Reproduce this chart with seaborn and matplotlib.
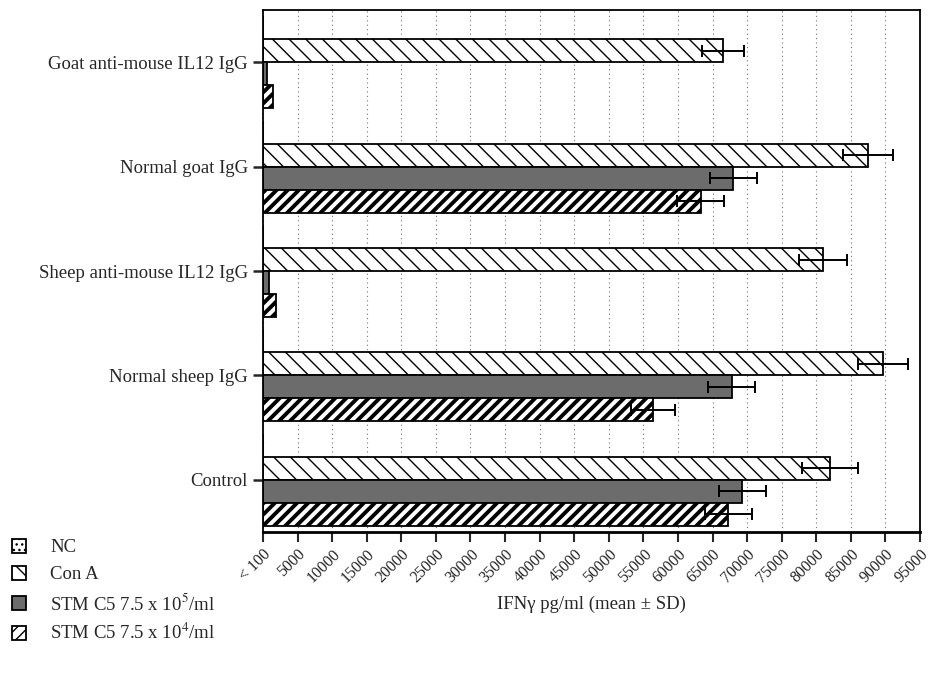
import numpy as np
import pandas as pd
import matplotlib.pyplot as plt
import seaborn as sns

# values (IFN-gamma pg/ml)
groups = ["Goat anti-mouse IL12 IgG", "Normal goat IgG", "Sheep anti-mouse IL12 IgG",
          "Normal sheep IgG", "Control"]
conditions = ["NC", "Con A", "STM C5 7.5 x 10$^{5}$/ml", "STM C5 7.5 x 10$^{4}$/ml"]
nc = [0, 0, 0, 0, 0]
nc_sd = [0, 0, 0, 0, 0]
cona = [66500, 87500, 81000, 89700, 82000]
cona_sd = [3000, 3600, 3500, 3600, 4100]
stm5 = [600, 68000, 800, 67800, 69300]
stm5_sd = [0, 3400, 0, 3400, 3400]
stm4 = [1400, 63300, 1900, 56400, 67300]
stm4_sd = [0, 3400, 0, 3200, 3400]
xticks = list(range(0, 95001, 5000))
xticklabels = ["< 100"] + [str(t) for t in xticks[1:]]

means = [nc, cona, stm5, stm4]
sds = [nc_sd, cona_sd, stm5_sd, stm4_sd]
fills = ["white", "white", "#6c6c6c", "white"]
hatches = ["...", "\\\\", None, "///"]

rows = []
for cond, vals in zip(conditions, means):
    for g, v in zip(groups, vals):
        rows.append({"group": g, "condition": cond, "value": v})
df = pd.DataFrame(rows)

sns.set_style("ticks")
plt.rcParams['font.family'] = ['Liberation Serif', 'DejaVu Serif']
plt.rcParams['mathtext.fontset'] = 'stix'
plt.rcParams['hatch.linewidth'] = 1.0

fig = plt.figure(figsize=(9.35, 6.74), dpi=100)
ax = fig.add_axes([263/935, 142/674, 657/935, 522/674])

sns.barplot(data=df, y="group", x="value", hue="condition", orient="h",
            order=groups, hue_order=conditions, palette=fills, width=0.88,
            errorbar=None, saturation=1, edgecolor="black", linewidth=1.3,
            legend=False, ax=ax)

bar_conts = list(ax.containers)
for i, cont in enumerate(bar_conts):
    for bar in cont:
        if hatches[i]:
            bar.set_hatch(hatches[i])
        if i == 3 and hasattr(bar, "set_hatch_linewidth"):
            bar.set_hatch_linewidth(2.8)
        yc = bar.get_y() + bar.get_height() / 2
        sd = sds[i][int(round(yc))]
        if sd > 0:
            ax.errorbar(bar.get_width(), yc, xerr=sd, fmt="none", ecolor="black",
                        elinewidth=1.4, capsize=4.5, capthick=1.4, zorder=5)

ax.set_ylim(len(groups) - 0.5, -0.5)
ax.set_xlim(0, 95000)
ax.set_xticks(xticks)
ax.set_xticklabels(xticklabels, rotation=45, ha="right", rotation_mode="anchor")
ax.grid(axis="x", linestyle=(0, (1, 3)), color="0.45", linewidth=0.8)
ax.set_axisbelow(True)
ax.tick_params(axis="y", length=7, width=1.8, labelsize=13.5, pad=4)
ax.tick_params(axis="x", length=7, width=1.5, labelsize=11.5, pad=3)
for s in ax.spines.values():
    s.set_visible(True)
    s.set_linewidth(1.3)
    s.set_color("black")
ax.spines["bottom"].set_linewidth(2)

ax.set_ylabel("")
ax.set_xlabel("IFN\u03b3 pg/ml (mean \u00b1 SD)", fontsize=13.5)
ax.xaxis.set_label_coords(0.5, -0.122)

fig.legend(handles=bar_conts, labels=conditions, loc="upper left",
           bbox_to_anchor=(12/935, 1 - 539/674), frameon=False, fontsize=13.5,
           handlelength=0.75, handleheight=0.75, handletextpad=1.3,
           labelspacing=0.5, borderaxespad=0, borderpad=0)

fig.savefig("out.png", dpi=100)
